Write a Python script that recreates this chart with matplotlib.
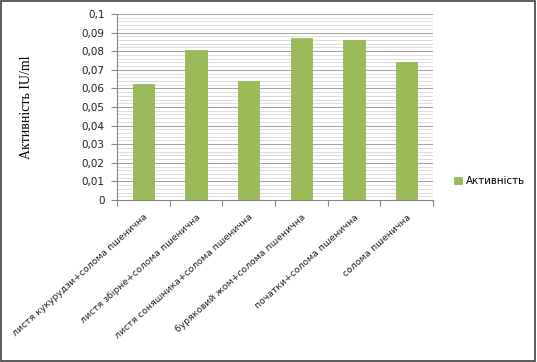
import numpy as np
import matplotlib.pyplot as plt
from matplotlib.patches import Rectangle
from matplotlib.ticker import MultipleLocator, FuncFormatter

# data
categories = ["листя кукурудзи+солома пшенична",
              "листя збірне+солома пшенична",
              "листя соняшника+солома пшенична",
              "буряковий жом+солома пшенична",
              "початки+солома пшенична",
              "солома пшенична"]
activity = [0.0624, 0.0805, 0.0642, 0.0872, 0.0862, 0.0742]
series_name = "Активність"

fig = plt.figure(figsize=(5.37, 3.62), dpi=100)
ax = fig.add_axes([117/537, 1 - 200/362, (433-117)/537, (200-14)/362])

x = np.arange(len(categories))
ax.bar(x, activity, width=0.4, color="#9BBB59", edgecolor="#8DB04C",
       linewidth=0.5, label=series_name, zorder=3)

ax.set_xlim(-0.5, len(categories) - 0.5)
ax.set_ylim(0, 0.1)
ax.yaxis.set_major_locator(MultipleLocator(0.01))
ax.yaxis.set_minor_locator(MultipleLocator(0.002))
ax.yaxis.set_major_formatter(FuncFormatter(lambda v, p: ("%g" % round(v, 3)).replace(".", ",")))
ax.grid(axis="y", which="major", color="#A0A0A0", linewidth=0.7, zorder=0)
ax.grid(axis="y", which="minor", color="#D0D0D0", linewidth=0.5, zorder=0)

for s in ["top", "right"]:
    ax.spines[s].set_visible(False)
ax.spines["left"].set_color("#868686")
ax.spines["bottom"].set_color("#868686")
ax.spines["left"].set_linewidth(0.8)
ax.spines["bottom"].set_linewidth(0.8)

ax.set_xticks(np.arange(len(categories) + 1) - 0.5, minor=False)
ax.set_xticklabels([])
ax.tick_params(axis="x", which="major", length=4, color="#868686", direction="out")
ax.set_xticks(x, minor=True)
ax.set_xticklabels(categories, minor=True, rotation=42, ha="right",
                   rotation_mode="anchor", fontsize=6.7, color="#202020")
ax.tick_params(axis="x", which="minor", length=0, pad=9)
ax.tick_params(axis="y", which="major", labelsize=7.5, length=4, pad=5,
               color="#868686", labelcolor="#202020")
ax.tick_params(axis="y", which="minor", length=0)

ax.set_ylabel("Активність IU/ml", family="Liberation Serif", fontsize=10)
ax.yaxis.set_label_coords(-0.265, 0.5)

ax.legend(loc="center left", bbox_to_anchor=(445/537, 1 - 181/362),
          bbox_transform=fig.transFigure, frameon=False, fontsize=7.4,
          handlelength=0.75, handleheight=0.75, handletextpad=0.4)

fig.patches.append(Rectangle((0.002, 0.003), 0.995, 0.994, transform=fig.transFigure,
                             fill=False, edgecolor="#404040", linewidth=1.2))

fig.savefig("out.png", dpi=100)
